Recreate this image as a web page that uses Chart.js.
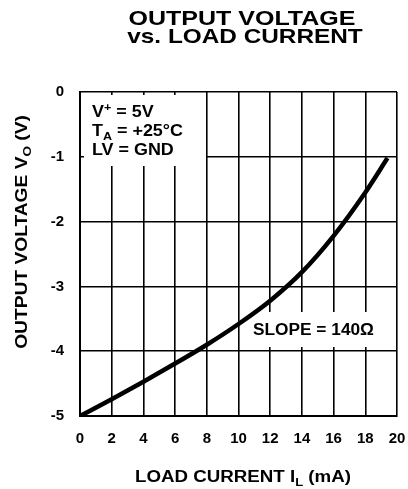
<!DOCTYPE html>
<html>
<head>
<meta charset="utf-8">
<script src="https://cdn.jsdelivr.net/npm/chart.js@4"></script>
<style>
  html, body { margin: 0; padding: 0; background: #fff; }
  canvas { display: block; }
</style>
</head>
<body>
<canvas id="grafico" width="408" height="489"></canvas>
<script>
// datos
const corriente = [0, 2, 4, 6, 8, 10, 12, 14, 16, 18, 19.4];      // mA
const tension = [-5, -4.74, -4.47, -4.19, -3.9, -3.58, -3.22, -2.78, -2.22, -1.55, -1.02]; // V
const ticksX = [0, 2, 4, 6, 8, 10, 12, 14, 16, 18, 20];
const ticksY = [0, -1, -2, -3, -4, -5];

const FUENTE = "'Liberation Sans', Arial, sans-serif";

// dibuja texto en partes (normal / subindice / superindice), estirado en horizontal
function dibujarTexto(ctx, partes, x, y, size, sx, align) {
  ctx.save();
  ctx.textBaseline = "alphabetic";
  ctx.textAlign = "left";
  let ancho = 0;
  partes.forEach(p => {
    const s = p.sub || p.sup ? size * 0.7 : size;
    ctx.font = `bold ${s}px ${FUENTE}`;
    ancho += ctx.measureText(p.t).width;
  });
  let x0 = align === "left" ? 0 : -ancho / 2;
  ctx.translate(x, y);
  ctx.scale(sx, 1);
  partes.forEach(p => {
    const s = p.sub || p.sup ? size * 0.7 : size;
    ctx.font = `bold ${s}px ${FUENTE}`;
    let dy = 0;
    if (p.sub) dy = size * 0.28;
    if (p.sup) dy = -size * 0.38;
    ctx.fillStyle = "#000";
    ctx.fillText(p.t, x0, dy);
    x0 += ctx.measureText(p.t).width;
  });
  ctx.restore();
}

const textos = {
  id: "textos",
  beforeDatasetsDraw(chart) {
    const ctx = chart.ctx;
    // cajas blancas de las notas
    ctx.save();
    ctx.fillStyle = "#fff";
    ctx.fillRect(84, 95, 122, 71);
    ctx.fillRect(250, 312, 134, 35);
    ctx.restore();
  },
  afterDraw(chart) {
    const ctx = chart.ctx;
    // titulo
    dibujarTexto(ctx, [{ t: "OUTPUT VOLTAGE" }], 242, 25, 21, 1.19, "center");
    dibujarTexto(ctx, [{ t: "vs. LOAD CURRENT" }], 245, 43, 21, 1.16, "center");
    // titulos de ejes
    dibujarTexto(ctx, [{ t: "LOAD CURRENT I" }, { t: "L", sub: true }, { t: " (mA)" }], 243, 482, 16, 1.17, "center");
    ctx.save();
    ctx.translate(27, 232);
    ctx.rotate(-Math.PI / 2);
    dibujarTexto(ctx, [{ t: "OUTPUT VOLTAGE V" }, { t: "O", sub: true }, { t: " (V)" }], 0, 0, 16, 1.2, "center");
    ctx.restore();
    // notas
    dibujarTexto(ctx, [{ t: "V" }, { t: "+", sup: true }, { t: " = 5V" }], 92, 117, 16, 1.12, "left");
    dibujarTexto(ctx, [{ t: "T" }, { t: "A", sub: true }, { t: " = +25°C" }], 92, 136, 16, 1.12, "left");
    dibujarTexto(ctx, [{ t: "LV = GND" }], 92, 155, 16, 1.12, "left");
    dibujarTexto(ctx, [{ t: "SLOPE = 140Ω" }], 253, 335, 16, 1.08, "left");
  }
};

const ctx = document.getElementById("grafico").getContext("2d");

new Chart(ctx, {
  type: "line",
  data: {
    datasets: [{
      data: corriente.map((c, i) => ({ x: c, y: tension[i] })),
      borderColor: "#000",
      borderWidth: 4.5,
      pointRadius: 0,
      cubicInterpolationMode: "monotone",
      fill: false
    }]
  },
  options: {
    responsive: false,
    animation: false,
    layout: { padding: { top: 92, left: 0, right: 11, bottom: 0 } },
    plugins: {
      legend: { display: false },
      title: { display: false },
      tooltip: { enabled: false }
    },
    scales: {
      x: {
        type: "linear",
        min: 0,
        max: 20,
        afterFit: s => { s.height = 73; s.paddingLeft = 0; s.paddingRight = 0; },
        afterBuildTicks: s => { s.ticks = ticksX.map(v => ({ value: v })); },
        grid: { color: "#000", lineWidth: 1.6, drawTicks: false },
        border: { color: "#000", width: 2 },
        ticks: {
          color: "#000",
          padding: 14,
          maxRotation: 0,
          autoSkip: false,
          font: { family: FUENTE, size: 15, weight: "bold" }
        }
      },
      y: {
        min: -5,
        max: 0,
        afterFit: s => { s.width = 80; s.paddingTop = 0; s.paddingBottom = 0; },
        afterBuildTicks: s => { s.ticks = ticksY.map(v => ({ value: v })); },
        grid: { color: "#000", lineWidth: 1.6, drawTicks: false },
        border: { color: "#000", width: 2 },
        ticks: {
          color: "#000",
          padding: 16,
          font: { family: FUENTE, size: 15, weight: "bold" }
        }
      }
    }
  },
  plugins: [textos]
});
</script>
</body>
</html>
